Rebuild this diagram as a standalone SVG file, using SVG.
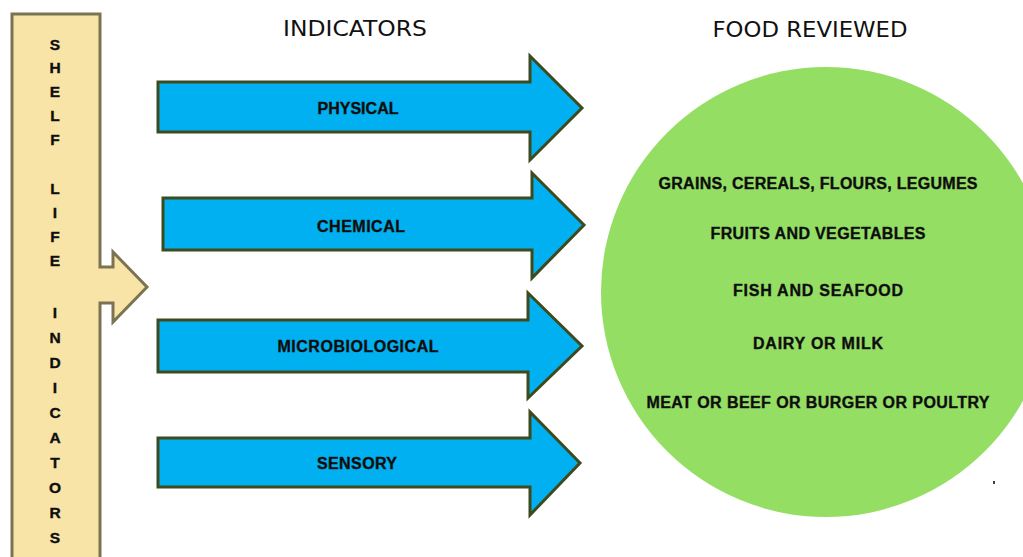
<svg xmlns="http://www.w3.org/2000/svg" width="1023" height="557" viewBox="0 0 1023 557">
  <style>
    .shelf { fill: #F8E4A6; stroke: #7B7352; stroke-width: 3; stroke-linejoin: miter; }
    .ind { fill: #00B0F0; stroke: #3D4A1E; stroke-width: 3; stroke-linejoin: miter; }
    .food { fill: #94DF63; }
    .head { font-family: "DejaVu Sans", "Liberation Sans", sans-serif; font-size: 21px; fill: #111; text-anchor: middle; }
    .lbl { font-family: "Liberation Sans", Arial, sans-serif; font-weight: bold; font-size: 16px; fill: #0c0c0c; stroke: #1a1a1a; stroke-width: 0.4; text-anchor: middle; }
    .vert { font-family: "Liberation Sans", Arial, sans-serif; font-weight: bold; font-size: 15.5px; fill: #0c0c0c; stroke: #1a1a1a; stroke-width: 0.4; text-anchor: middle; }
  </style>

  <g id="shelf-life-indicators">
    <path class="shelf" d="M12,14 H100 V267 H113 V252 L147,287 L113,322 V303 H100 V562 H12 Z"/>
    <g class="vert">
      <text x="55" y="50">S</text>
      <text x="55" y="73">H</text>
      <text x="55" y="97">E</text>
      <text x="55" y="121">L</text>
      <text x="55" y="145">F</text>
      <text x="55" y="194">L</text>
      <text x="55" y="218">I</text>
      <text x="55" y="242">F</text>
      <text x="55" y="266">E</text>
      <text x="55" y="318">I</text>
      <text x="55" y="343">N</text>
      <text x="55" y="368">D</text>
      <text x="55" y="393">I</text>
      <text x="55" y="418">C</text>
      <text x="55" y="443">A</text>
      <text x="55" y="468">T</text>
      <text x="55" y="493">O</text>
      <text x="55" y="518">R</text>
      <text x="55" y="543">S</text>
    </g>
  </g>

  <g id="headers">
    <text class="head" x="355" y="36" textLength="144" lengthAdjust="spacingAndGlyphs">INDICATORS</text>
    <text class="head" x="810" y="37" textLength="195" lengthAdjust="spacingAndGlyphs">FOOD REVIEWED</text>
  </g>

  <g id="physical">
    <path class="ind" d="M158,82 H530 V56 L582,108 L530,160 V132 H158 Z"/>
    <text class="lbl" x="358" y="114" textLength="81" lengthAdjust="spacing">PHYSICAL</text>
  </g>

  <g id="chemical">
    <path class="ind" d="M163,198 H532 V173 L584,225 L532,278 V250 H163 Z"/>
    <text class="lbl" x="361" y="232" textLength="88" lengthAdjust="spacing">CHEMICAL</text>
  </g>

  <g id="microbiological">
    <path class="ind" d="M158,320 H528 V293 L582,346 L528,398 V372 H158 Z"/>
    <text class="lbl" x="358" y="352" textLength="161" lengthAdjust="spacing">MICROBIOLOGICAL</text>
  </g>

  <g id="sensory">
    <path class="ind" d="M158,438 H530 V412 L580,463 L530,515 V487 H158 Z"/>
    <text class="lbl" x="357" y="469" textLength="80" lengthAdjust="spacing">SENSORY</text>
  </g>

  <g id="food-reviewed">
    <circle class="food" cx="826" cy="292" r="225"/>
    <text class="lbl" x="818" y="189" textLength="319" lengthAdjust="spacing">GRAINS, CEREALS, FLOURS, LEGUMES</text>
    <text class="lbl" x="818" y="239" textLength="215" lengthAdjust="spacing">FRUITS AND VEGETABLES</text>
    <text class="lbl" x="818" y="296" textLength="170" lengthAdjust="spacing">FISH AND SEAFOOD</text>
    <text class="lbl" x="818" y="349" textLength="130" lengthAdjust="spacing">DAIRY OR MILK</text>
    <text class="lbl" x="818" y="408" textLength="343" lengthAdjust="spacing">MEAT OR BEEF OR BURGER OR POULTRY</text>
  </g>

  <g id="connectors"></g>

  <rect x="993" y="481" width="2" height="3" fill="#3a4a30"/>
</svg>
